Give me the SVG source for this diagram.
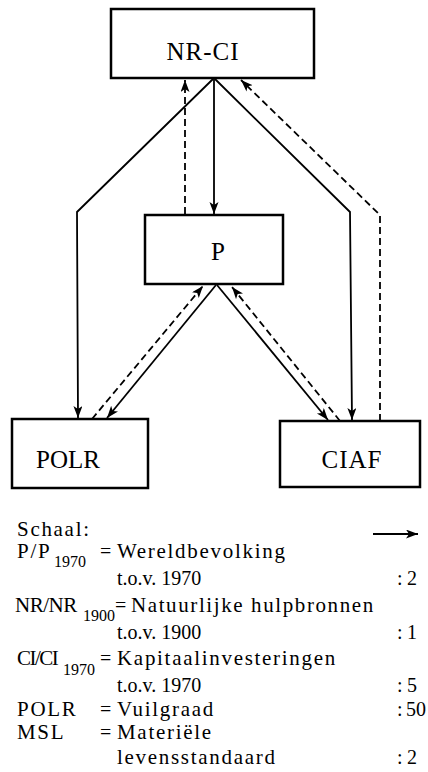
<svg xmlns="http://www.w3.org/2000/svg" width="428" height="772" viewBox="0 0 428 772">
<style>
.box{fill:#fff;stroke:#000;stroke-width:2.5}
.lbl{font-family:"Liberation Serif",serif;font-size:25px;fill:#000;text-anchor:middle}
.ln{fill:none;stroke:#000;stroke-width:1.8}
.ds{fill:none;stroke:#000;stroke-width:1.8;stroke-dasharray:7 4}
.t{font-family:"Liberation Serif",serif;font-size:21px;fill:#000;letter-spacing:1.7px}
.n{font-family:"Liberation Serif",serif;font-size:20px;fill:#000}
.s{font-family:"Liberation Serif",serif;font-size:16px;fill:#000}
</style>
<defs>
<marker id="ah" markerUnits="userSpaceOnUse" markerWidth="14" markerHeight="10" refX="12" refY="4.5" orient="auto">
<path d="M0,0 L12,4.5 L0,9 L3,4.5 Z" fill="#000"/>
</marker>
</defs>
<rect width="428" height="772" fill="#fff"/>
<g id="connectors">
<path class="ln" d="M214,79 L214,214" marker-end="url(#ah)"/>
<path class="ln" d="M213,79 L77,212 L78,418" marker-end="url(#ah)"/>
<path class="ln" d="M215,79 L350,212 L352,420" marker-end="url(#ah)"/>
<path class="ds" d="M185,214 L185,80" marker-end="url(#ah)"/>
<path class="ds" d="M380,421 L380,215 L241,80" marker-end="url(#ah)"/>
<path class="ln" d="M216,285 L107,418" marker-end="url(#ah)"/>
<path class="ds" d="M92,419 L203,286" marker-end="url(#ah)"/>
<path class="ln" d="M217,285 L328,420" marker-end="url(#ah)"/>
<path class="ds" d="M340,421 L232,287" marker-end="url(#ah)"/>
</g>
<g id="node-nrci">
<rect class="box" x="111" y="9" width="203" height="69"/>
<text class="lbl" x="203" y="60" style="letter-spacing:1px">NR-CI</text>
</g>
<g id="node-p">
<rect class="box" x="145" y="215" width="138" height="69"/>
<text class="lbl" x="218" y="260">P</text>
</g>
<g id="node-polr">
<rect class="box" x="12" y="419" width="136" height="69"/>
<text class="lbl" x="68" y="468">POLR</text>
</g>
<g id="node-ciaf">
<rect class="box" x="280" y="421" width="140" height="66"/>
<text class="lbl" x="352" y="468" style="letter-spacing:1px">CIAF</text>
</g>
<g id="legend">
<text class="t" x="17" y="536">Schaal:</text>
<path class="ln" d="M373,534 L418,534" marker-end="url(#ah)"/>

<text class="t" x="17" y="558">P/P</text>
<text class="s" x="54" y="567">1970</text>
<text class="n" x="100" y="558">=</text>
<text class="t" x="117" y="558">Wereldbevolking</text>
<text class="n" x="117" y="585">t.o.v. 1970</text>
<text class="n" x="397" y="585">:</text>
<text class="n" x="407" y="585">2</text>

<text class="t" x="15" y="612" style="letter-spacing:-0.5px">NR/NR</text>
<text class="s" x="83" y="621">1900</text>
<text class="n" x="115" y="612">=</text>
<text class="t" x="131" y="612" style="letter-spacing:1.6px">Natuurlijke hulpbronnen</text>
<text class="n" x="117" y="639">t.o.v. 1900</text>
<text class="n" x="397" y="639">:</text>
<text class="n" x="407" y="639">1</text>

<text class="t" x="17" y="665" style="letter-spacing:-1.5px">CI/CI</text>
<text class="s" x="63" y="675">1970</text>
<text class="n" x="100" y="665">=</text>
<text class="t" x="117" y="665">Kapitaalinvesteringen</text>
<text class="n" x="117" y="692">t.o.v. 1970</text>
<text class="n" x="397" y="692">:</text>
<text class="n" x="407" y="692">5</text>

<text class="t" x="17" y="716">POLR</text>
<text class="n" x="100" y="716">=</text>
<text class="t" x="117" y="716">Vuilgraad</text>
<text class="n" x="397" y="716">:</text>
<text class="n" x="406" y="716">50</text>

<text class="t" x="17" y="739">MSL</text>
<text class="n" x="100" y="739">=</text>
<text class="t" x="117" y="739">Materiële</text>
<text class="t" x="117" y="764">levensstandaard</text>
<text class="n" x="397" y="764">:</text>
<text class="n" x="407" y="764">2</text>
</g>
</svg>
